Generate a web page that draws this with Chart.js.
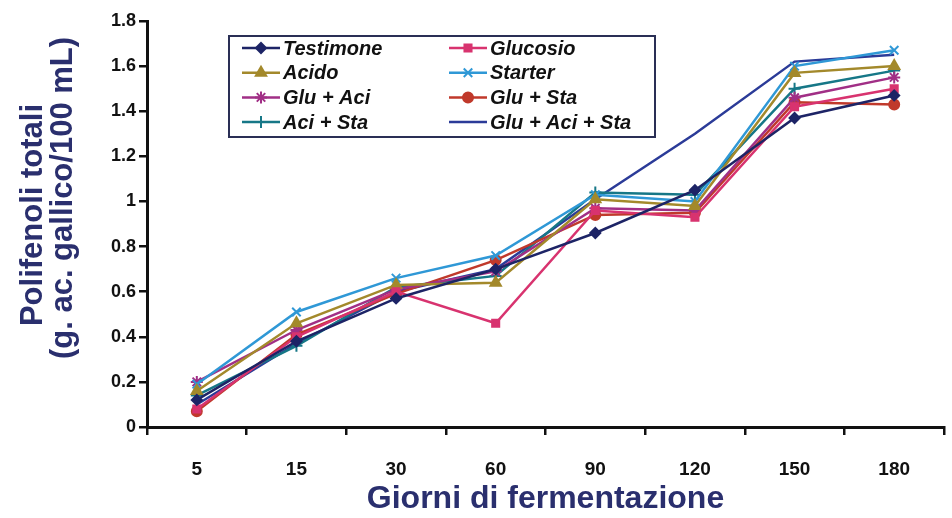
<!DOCTYPE html>
<html>
<head>
<meta charset="utf-8">
<script src="https://cdn.jsdelivr.net/npm/chart.js@4.4.0/dist/chart.umd.min.js"></script>
<style>
  html, body { margin: 0; padding: 0; background: #fff; }
  #wrap { width: 952px; height: 518px; }
</style>
</head>
<body>
<div id="wrap"><canvas id="polyChart" width="952" height="518"></canvas></div>
<script>
const giorni = ["5", "15", "30", "60", "90", "120", "150", "180"];

const testimone = [0.12, 0.38, 0.57, 0.70, 0.86, 1.05, 1.37, 1.47];
const glucosio = [0.08, 0.40, 0.60, 0.46, 0.96, 0.93, 1.42, 1.50];
const acido = [0.16, 0.46, 0.63, 0.64, 1.01, 0.98, 1.57, 1.60];
const starter = [0.19, 0.51, 0.66, 0.76, 1.03, 1.00, 1.60, 1.67];
const gluAci = [0.20, 0.43, 0.61, 0.69, 0.97, 0.96, 1.46, 1.55];
const gluSta = [0.07, 0.41, 0.59, 0.74, 0.94, 0.95, 1.44, 1.43];
const aciSta = [0.14, 0.36, 0.62, 0.67, 1.04, 1.03, 1.50, 1.58];
const gluAciSta = [0.10, 0.37, 0.60, 0.70, 1.01, 1.30, 1.62, 1.65];

const yTitle = ["Polifenoli totali", "(g. ac. gallico/100 mL)"];

const COLORS = {
  navy: "#1d2466",
  pink: "#d8336f",
  olive: "#a3892b",
  sky: "#2f98d6",
  plum: "#a12f86",
  brick: "#c0392b",
  teal: "#167787",
  blue: "#2b3b98",
};

function serie(label, values, color, style, radius) {
  return {
    label: label,
    data: values,
    borderColor: color,
    backgroundColor: color,
    borderWidth: 2.5,
    pointStyle: style,
    pointRadius: radius,
    pointBorderWidth: 2,
    fill: false,
  };
}

const datasets = [
  serie("Testimone", testimone, COLORS.navy, "rectRot", 5),
  serie("Glucosio", glucosio, COLORS.pink, "rect", 5),
  serie("Acido", acido, COLORS.olive, "triangle", 6),
  serie("Starter", starter, COLORS.sky, "crossRot", 6),
  serie("Glu + Aci", gluAci, COLORS.plum, "star", 6),
  serie("Glu + Sta", gluSta, COLORS.brick, "circle", 5),
  serie("Aci + Sta", aciSta, COLORS.teal, "cross", 6),
  serie("Glu + Aci + Sta", gluAciSta, COLORS.blue, "line", 0),
];

// legend box drawn inside the plot, two columns
const boxLegend = {
  id: "boxLegend",
  afterDraw(chart) {
    const c = chart.ctx;
    const x0 = 229, y0 = 36, w = 426, h = 101;
    c.save();
    c.strokeStyle = "#2a2f55";
    c.lineWidth = 2;
    c.strokeRect(x0, y0, w, h);
    c.font = "italic bold 20px 'Liberation Sans', Arial, sans-serif";
    c.textBaseline = "middle";
    chart.data.datasets.forEach((ds, i) => {
      const col = i % 2;
      const row = Math.floor(i / 2);
      const lx = x0 + 13 + col * 207;
      const ly = y0 + 12 + row * 24.7;
      c.strokeStyle = ds.borderColor;
      c.fillStyle = ds.backgroundColor;
      c.lineWidth = 2.5;
      c.beginPath();
      c.moveTo(lx, ly);
      c.lineTo(lx + 38, ly);
      c.stroke();
      if (ds.pointRadius > 0) {
        c.lineWidth = 2;
        Chart.helpers.drawPoint(c, { pointStyle: ds.pointStyle, radius: ds.pointRadius, borderWidth: 2, rotation: 0 }, lx + 19, ly);
      }
      c.fillStyle = "#111";
      c.fillText(ds.label, lx + 41, ly + 1);
    });
    c.restore();
  },
};

// y title sits a bit above the axis centre in the original, so draw it by hand
const sideTitle = {
  id: "sideTitle",
  afterDraw(chart) {
    const c = chart.ctx;
    c.save();
    c.fillStyle = "#2a2f6e";
    c.font = "bold 31px 'Liberation Sans', Arial, sans-serif";
    c.textAlign = "center";
    c.textBaseline = "middle";
    const spots = [[33, 215], [63, 198]];
    yTitle.forEach((line, i) => {
      c.save();
      c.translate(spots[i][0], spots[i][1]);
      c.rotate(-Math.PI / 2);
      c.fillText(line, 0, 0);
      c.restore();
    });
    c.restore();
  },
};

const config = {
  type: "line",
  data: { labels: giorni, datasets: datasets },
  options: {
    responsive: false,
    animation: false,
    layout: { padding: { top: 21, right: 7, left: 18, bottom: 0 } },
    plugins: {
      legend: { display: false },
      tooltip: { enabled: false },
    },
    scales: {
      y: {
        min: 0,
        max: 1.8,
        ticks: {
          stepSize: 0.2,
          color: "#111",
          padding: 3,
          font: { family: "'Liberation Sans', Arial, sans-serif", size: 18, weight: "bold" },
          callback: (v) => Math.round(v * 10) / 10,
        },
        grid: { drawOnChartArea: false, drawTicks: true, tickLength: 8, color: "#111", lineWidth: 2.5 },
        border: { color: "#111", width: 3 },
        title: { display: false },
        afterFit: (s) => { s.width = 129; },
      },
      x: {
        offset: true,
        ticks: {
          color: "#111",
          padding: 23,
          font: { family: "'Liberation Sans Narrow', 'Liberation Sans', Arial, sans-serif", size: 19, weight: "bold" },
        },
        grid: { offset: true, drawOnChartArea: false, drawTicks: true, tickLength: 8, color: "#111", lineWidth: 2.5 },
        border: { color: "#111", width: 3 },
        title: {
          display: true,
          text: "Giorni di fermentazione",
          color: "#2a2f6e",
          font: { family: "'Liberation Sans', Arial, sans-serif", size: 32, weight: "bold" },
          padding: { top: 1, bottom: 0 },
        },
        afterFit: (s) => { s.height = 91; },
      },
    },
  },
  plugins: [boxLegend, sideTitle],
};

const polyChart = new Chart(document.getElementById("polyChart").getContext("2d"), config);
</script>
</body>
</html>
